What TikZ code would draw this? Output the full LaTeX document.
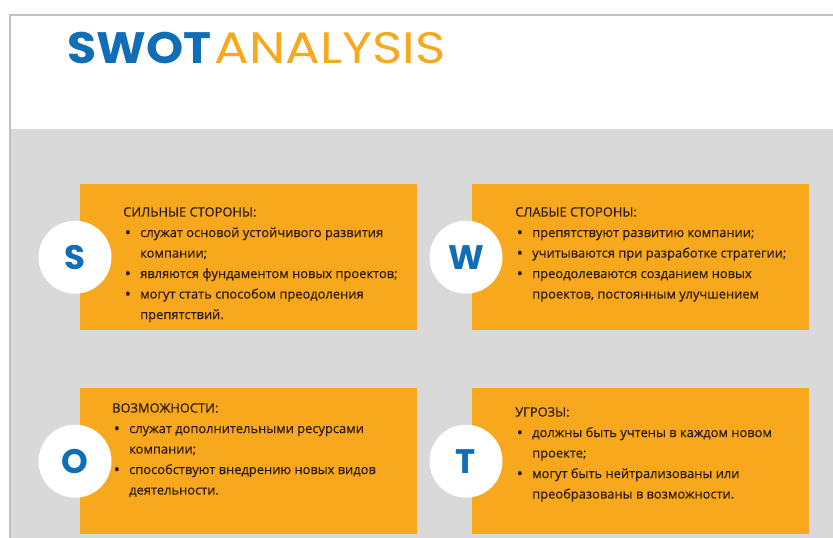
\documentclass[tikz,border=0pt]{standalone}
\usepackage{fontspec}
\setmainfont{Open Sans}
\newfontfamily\titlefont{Poppins}
\newfontfamily\bodyfont[FakeBold=0.3]{Open Sans}
\definecolor{swotblue}{RGB}{16,110,183}
\definecolor{swotorange}{RGB}{247,168,28}
\definecolor{swotgray}{RGB}{217,217,217}
\definecolor{swotframe}{RGB}{192,192,198}
\definecolor{swottext}{RGB}{45,28,12}
\newcommand{\swotitem}{\hspace*{1.5pt}\makebox[15.5pt][l]{\raisebox{-1.3pt}{\scalebox{1.3}{\textbullet}}}}
\newcommand{\swotcont}{\hspace*{17pt}}
\begin{document}
\begin{tikzpicture}[x=1pt,y=-1pt,
	box/.style={fill=swotorange, minimum width=337, minimum height=146, anchor=north west, inner sep=0},
	letter/.style={circle, fill=white, minimum size=73, inner sep=0, text=swotblue, font=\titlefont\bfseries\fontsize{34}{34}\selectfont},
	body/.style={anchor=north west, align=left, inner sep=0, text=swottext, font=\bodyfont\fontsize{12.9}{20.5}\selectfont}]
	\useasboundingbox (0,0) rectangle (833,538);
	\fill[white] (0,0) rectangle (833,538);
	\fill[swotgray] (10.5,129) rectangle (833,538);
	\draw[swotframe, line width=2] (833,14.5) -- (9.5,14.5) -- (9.5,538);
	\node[anchor=base west, inner sep=0, text=swotblue, font=\titlefont\bfseries\fontsize{44}{44}\selectfont] (swot) at (67,63) {\scalebox{1.075}[1]{SWOT}};
	\node[anchor=base west, inner sep=0, text=swotorange, font=\titlefont\fontsize{44}{44}\selectfont] (analysis) at ([xshift=3pt]swot.base east) {\scalebox{1.17}[1]{ANALYSIS}};
	\node[box] (boxS) at (80,184) {};
	\node[box] (boxW) at (472,184) {};
	\node[box] (boxO) at (80,388) {};
	\node[box] (boxT) at (472,388) {};
	\node[letter] (circS) at ([xshift=-5pt]boxS.west) {S};
	\node[letter] (circW) at ([xshift=-6pt]boxW.west) {W};
	\node[letter] (circO) at ([xshift=-5pt]boxO.west) {O};
	\node[letter] (circT) at ([xshift=-6pt]boxT.west) {T};
	\node[body] (textS) at (123,207) {СИЛЬНЫЕ СТОРОНЫ:\\
		\swotitem служат основой устойчивого развития\\
		\swotcont компании;\\
		\swotitem являются фундаментом новых проектов;\\
		\swotitem могут стать способом преодоления\\
		\swotcont препятствий.};
	\node[body] (textW) at (515,207) {СЛАБЫЕ СТОРОНЫ:\\
		\swotitem препятствуют развитию компании;\\
		\swotitem учитываются при разработке стратегии;\\
		\swotitem преодолеваются созданием новых\\
		\swotcont проектов, постоянным улучшением};
	\node[body] (textO) at (112,403) {ВОЗМОЖНОСТИ:\\
		\swotitem служат дополнительными ресурсами\\
		\swotcont компании;\\
		\swotitem способствуют внедрению новых видов\\
		\swotcont деятельности.};
	\node[body] (textT) at (515,407) {УГРОЗЫ:\\
		\swotitem должны быть учтены в каждом новом\\
		\swotcont проекте;\\
		\swotitem могут быть нейтрализованы или\\
		\swotcont преобразованы в возможности.};
\end{tikzpicture}
\end{document}
